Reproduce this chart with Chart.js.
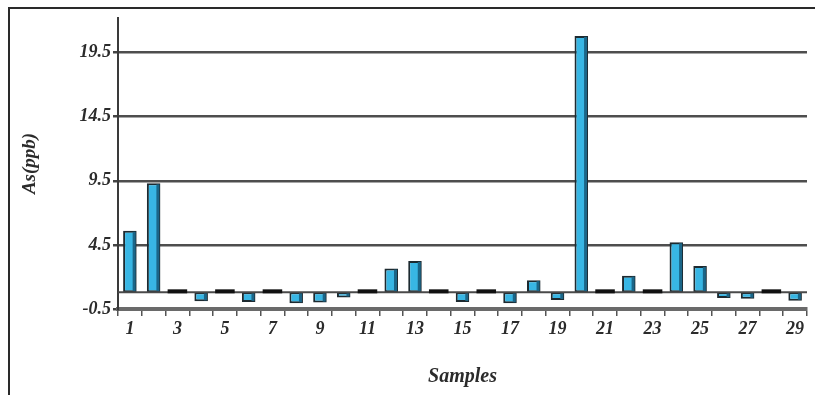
<!DOCTYPE html>
<html>
<head>
<meta charset="utf-8">
<script src="https://cdn.jsdelivr.net/npm/chart.js@4.4.1/dist/chart.umd.min.js"></script>
<style>
    html, body { margin: 0; padding: 0; background: #fff; }
    #wrap { position: relative; width: 815px; height: 395px; overflow: hidden; }
    #frame { position: absolute; left: 8px; top: 7px; width: 820px; height: 400px;
             border-top: 2px solid #2a2a2a; border-left: 2px solid #2a2a2a; }
    canvas { position: absolute; left: 0; top: 0; }
</style>
</head>
<body>
<div id="wrap">
    <div id="frame"></div>
    <canvas id="asChart" width="815" height="395"></canvas>
</div>
<script>
// sample numbers
const samples = [
    "1", "2", "3", "4", "5", "6", "7", "8", "9", "10",
    "11", "12", "13", "14", "15", "16", "17", "18", "19", "20",
    "21", "22", "23", "24", "25", "26", "27", "28", "29"
];
// bar ends read against the As(ppb) axis
const asValues = [
    5.6, 9.3, 0.8, 0.1, 0.8, 0.05, 0.8, -0.05, 0.0, 0.4,
    0.8, 2.65, 3.25, 0.8, 0.05, 0.8, -0.05, 1.75, 0.2, 20.8,
    0.8, 2.1, 0.8, 4.7, 2.85, 0.35, 0.3, 0.8, 0.15
];
// level where the bars start (the dark line above the floor)
const baseLevel = 0.8;
const yTicks = [-0.5, 4.5, 9.5, 14.5, 19.5];

document.addEventListener("DOMContentLoaded", function () {
    const serif = "'Liberation Serif', 'DejaVu Serif', serif";

    // shaded right side on bars, flat black tops for empty samples, base line
    const floorPlugin = {
        id: "floorPlugin",
        afterDatasetsDraw(chart) {
            const ctx = chart.ctx;
            const y = chart.scales.y.getPixelForValue(baseLevel);
            const area = chart.chartArea;
            const meta = chart.getDatasetMeta(0);
            ctx.save();

            ctx.fillStyle = "#1b6688";
            meta.data.forEach((bar, i) => {
                if (asValues[i] !== baseLevel) {
                    const top = Math.min(bar.y, bar.base);
                    const h = Math.abs(bar.y - bar.base);
                    ctx.fillRect(bar.x + bar.width / 2 - 4, top + 1, 3, h - 2);
                }
            });

            ctx.strokeStyle = "#4a4a4a";
            ctx.lineWidth = 2;
            ctx.beginPath();
            ctx.moveTo(area.left, y);
            ctx.lineTo(area.right, y);
            ctx.stroke();

            ctx.fillStyle = "#111";
            meta.data.forEach((bar, i) => {
                if (asValues[i] === baseLevel) {
                    const w = bar.width + 6;
                    ctx.fillRect(bar.x - w / 2, y - 3, w, 4);
                }
            });
            ctx.restore();
        }
    };

    const ctx = document.getElementById("asChart").getContext("2d");
    new Chart(ctx, {
        type: "bar",
        data: {
            labels: samples,
            datasets: [
                {
                    data: asValues,
                    base: baseLevel,
                    backgroundColor: "#38b6e4",
                    borderColor: "#1d2a30",
                    borderWidth: 2,
                    borderSkipped: false,
                    barPercentage: 0.57,
                    categoryPercentage: 1.0,
                },
            ],
        },
        options: {
            responsive: false,
            animation: false,
            layout: { padding: { top: 18, right: 8, left: 0, bottom: 0 } },
            plugins: {
                legend: { display: false },
                tooltip: { enabled: false },
            },
            scales: {
                x: {
                    grid: {
                        drawOnChartArea: false,
                        drawTicks: true,
                        tickLength: 7,
                        color: "#555",
                        lineWidth: 1.5,
                    },
                    border: { display: true, color: "#6a6a6a", width: 4 },
                    ticks: {
                        autoSkip: false,
                        maxRotation: 0,
                        padding: 3,
                        color: "#2b2b2b",
                        font: { family: serif, size: 18, weight: "bold", style: "italic" },
                        callback: function (val, i) {
                            return i % 2 === 0 ? samples[i] : "";
                        },
                    },
                    title: {
                        display: true,
                        text: "Samples",
                        color: "#2b2b2b",
                        padding: { top: 0, bottom: 6 },
                        font: { family: serif, size: 20, weight: "bold", style: "italic" },
                    },
                    afterFit: function (scale) {
                        scale.height = 86;
                    },
                },
                y: {
                    min: -0.5,
                    max: 22.2,
                    afterBuildTicks: function (axis) {
                        axis.ticks = yTicks.map((v) => ({ value: v }));
                    },
                    grid: {
                        color: function (c) {
                            return c.tick && c.tick.value === -0.5 ? "rgba(0,0,0,0)" : "#4e4e4e";
                        },
                        lineWidth: 2.5,
                        tickLength: 5,
                        tickColor: "#444",
                    },
                    border: { display: true, color: "#3a3a3a", width: 2 },
                    ticks: {
                        padding: 2,
                        color: "#2b2b2b",
                        font: { family: serif, size: 18, weight: "bold", style: "italic" },
                        callback: function (val) {
                            return val.toFixed(1);
                        },
                    },
                    title: {
                        display: true,
                        text: "As(ppb)",
                        color: "#2b2b2b",
                        padding: { top: 19, bottom: 0 },
                        font: { family: serif, size: 19, weight: "bold", style: "italic" },
                    },
                    afterFit: function (scale) {
                        scale.width = 118;
                    },
                },
            },
        },
        plugins: [floorPlugin],
    });
});
</script>
</body>
</html>
